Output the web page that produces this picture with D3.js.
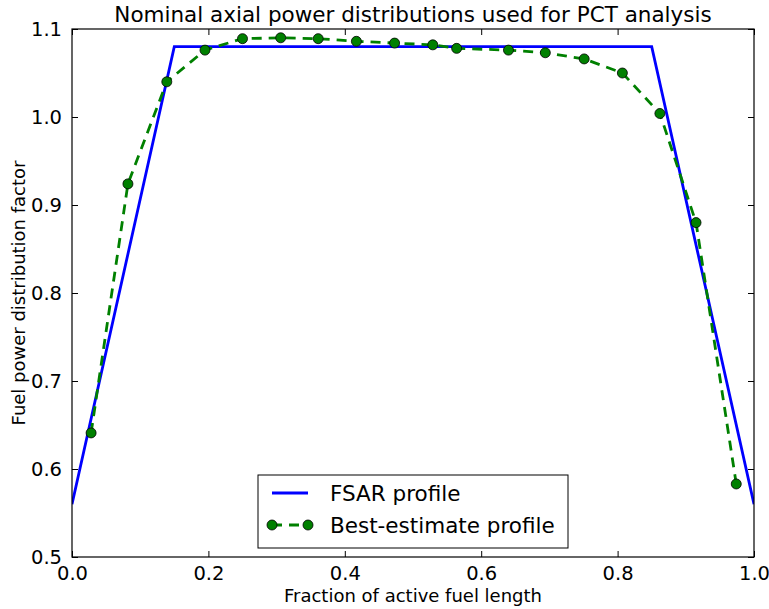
<!DOCTYPE html>
<html>
<head>
<meta charset="utf-8">
<script src="https://cdn.jsdelivr.net/npm/d3@7"></script>
<style>
  body { margin: 0; background: #fff; }
  text { font-family: "DejaVu Sans", sans-serif; }
</style>
</head>
<body>
<div id="chart"></div>
<script>
const width = 769;
const height = 609;

// Plot area
const margin = { top: 29, right: 15, bottom: 52, left: 72 };

// FSAR profile
const fsarX = [0.0, 0.15, 0.85, 1.0];
const fsarY = [0.56, 1.08, 1.08, 0.56];

// Best-estimate profile
const bestX = [0.028, 0.082, 0.139, 0.195, 0.250, 0.306, 0.361, 0.417, 0.473, 0.529, 0.564, 0.640, 0.694, 0.751, 0.807, 0.862, 0.915, 0.974];
const bestY = [0.641, 0.924, 1.040, 1.076, 1.089, 1.090, 1.089, 1.086, 1.084, 1.082, 1.078, 1.076, 1.073, 1.066, 1.050, 1.004, 0.880, 0.583];

// Ticks
const xTicks = [0.0, 0.2, 0.4, 0.6, 0.8, 1.0];
const yTicks = [0.5, 0.6, 0.7, 0.8, 0.9, 1.0, 1.1];

const svg = d3.select('#chart')
    .append('svg')
    .attr('width', width)
    .attr('height', height);

const x = d3.scaleLinear()
    .domain([0, 1])
    .range([margin.left, width - margin.right]);

const y = d3.scaleLinear()
    .domain([0.5, 1.1])
    .range([height - margin.bottom, margin.top]);

// Axes, ticks pointing inward on all four sides
const fmt = d3.format('.1f');
const tickStyle = g => {
    g.select('.domain').remove();
    g.selectAll('line').attr('stroke', '#000').attr('stroke-width', 1);
    g.selectAll('text').attr('fill', '#000').style('font-size', '19.5px');
};

svg.append('g')
    .attr('transform', `translate(0,${y.range()[0]})`)
    .call(d3.axisBottom(x).tickValues(xTicks).tickFormat(fmt).tickSizeInner(-6).tickPadding(9))
    .call(tickStyle);

svg.append('g')
    .attr('transform', `translate(0,${y.range()[1]})`)
    .call(d3.axisTop(x).tickValues(xTicks).tickFormat('').tickSizeInner(-6))
    .call(tickStyle);

svg.append('g')
    .attr('transform', `translate(${x.range()[0]},0)`)
    .call(d3.axisLeft(y).tickValues(yTicks).tickFormat(fmt).tickSizeInner(-6).tickPadding(10))
    .call(tickStyle);

svg.append('g')
    .attr('transform', `translate(${x.range()[1]},0)`)
    .call(d3.axisRight(y).tickValues(yTicks).tickFormat('').tickSizeInner(-6))
    .call(tickStyle);

// Clip to plot area
svg.append('clipPath')
    .attr('id', 'clip')
    .append('rect')
    .attr('x', x.range()[0])
    .attr('y', y.range()[1])
    .attr('width', x.range()[1] - x.range()[0])
    .attr('height', y.range()[0] - y.range()[1]);

const line = d3.line()
    .x(d => x(d[0]))
    .y(d => y(d[1]));

const fsar = fsarX.map((v, i) => [v, fsarY[i]]);
const best = bestX.map((v, i) => [v, bestY[i]]);

svg.append('path')
    .datum(fsar)
    .attr('clip-path', 'url(#clip)')
    .attr('d', line)
    .attr('fill', 'none')
    .attr('stroke', '#0000ff')
    .attr('stroke-width', 2.8);

svg.append('path')
    .datum(best)
    .attr('d', line)
    .attr('fill', 'none')
    .attr('stroke', '#008000')
    .attr('stroke-width', 2.8)
    .attr('stroke-dasharray', '10,7');

svg.append('g')
    .selectAll('circle')
    .data(best)
    .enter().append('circle')
    .attr('cx', d => x(d[0]))
    .attr('cy', d => y(d[1]))
    .attr('r', 5)
    .attr('fill', '#008000')
    .attr('stroke', '#000')
    .attr('stroke-width', 0.8);

// Frame
svg.append('rect')
    .attr('x', x.range()[0])
    .attr('y', y.range()[1])
    .attr('width', x.range()[1] - x.range()[0])
    .attr('height', y.range()[0] - y.range()[1])
    .attr('fill', 'none')
    .attr('stroke', '#000')
    .attr('stroke-width', 1.2);

// Title and labels
svg.append('text')
    .attr('x', (x.range()[0] + x.range()[1]) / 2)
    .attr('y', 22)
    .attr('text-anchor', 'middle')
    .style('font-size', '21.5px')
    .text('Nominal axial power distributions used for PCT analysis');

svg.append('text')
    .attr('x', (x.range()[0] + x.range()[1]) / 2)
    .attr('y', 602)
    .attr('text-anchor', 'middle')
    .style('font-size', '18px')
    .text('Fraction of active fuel length');

svg.append('text')
    .attr('transform', `translate(25,${(y.range()[0] + y.range()[1]) / 2}) rotate(-90)`)
    .attr('text-anchor', 'middle')
    .style('font-size', '18px')
    .text('Fuel power distribution factor');

// Legend
const legend = svg.append('g').attr('transform', 'translate(258,475)');
legend.append('rect')
    .attr('width', 310)
    .attr('height', 73)
    .attr('fill', '#fff')
    .attr('stroke', '#000')
    .attr('stroke-width', 1);

legend.append('line')
    .attr('x1', 14).attr('x2', 50)
    .attr('y1', 18).attr('y2', 18)
    .attr('stroke', '#0000ff')
    .attr('stroke-width', 2.8);
legend.append('text')
    .attr('x', 72).attr('y', 26)
    .style('font-size', '21.5px')
    .text('FSAR profile');

legend.append('line')
    .attr('x1', 14).attr('x2', 50)
    .attr('y1', 50).attr('y2', 50)
    .attr('stroke', '#008000')
    .attr('stroke-width', 2.8)
    .attr('stroke-dasharray', '10,7');
[14, 50].forEach(cx => {
    legend.append('circle')
        .attr('cx', cx).attr('cy', 50).attr('r', 5)
        .attr('fill', '#008000')
        .attr('stroke', '#000')
        .attr('stroke-width', 0.8);
});
legend.append('text')
    .attr('x', 72).attr('y', 58)
    .style('font-size', '21.5px')
    .text('Best-estimate profile');
</script>
</body>
</html>
